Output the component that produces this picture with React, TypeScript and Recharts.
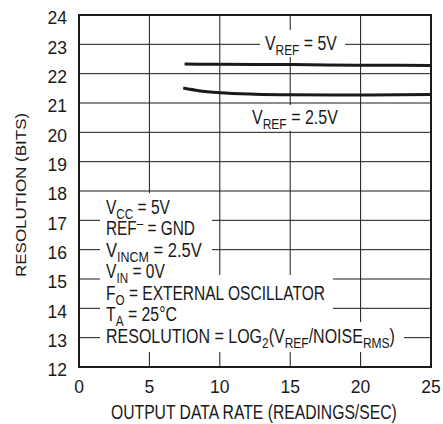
import React, { useLayoutEffect, useRef, useState } from "react";
import {
  LineChart,
  Line,
  XAxis,
  YAxis,
  CartesianGrid,
  ReferenceArea,
} from "recharts";

// resolution vs output data rate
const vref5 = [
  { x: 7.5, y: 22.33 },
  { x: 10, y: 22.32 },
  { x: 15, y: 22.31 },
  { x: 20, y: 22.29 },
  { x: 25, y: 22.28 },
];

const vref25 = [
  { x: 7.4, y: 21.51 },
  { x: 8.5, y: 21.42 },
  { x: 10, y: 21.35 },
  { x: 12.5, y: 21.3 },
  { x: 15, y: 21.28 },
  { x: 20, y: 21.27 },
  { x: 25, y: 21.29 },
];

const xTicks = [0, 5, 10, 15, 20, 25];
const yTicks = [12, 13, 14, 15, 16, 17, 18, 19, 20, 21, 22, 23, 24];

// white patches behind the annotations (data units)
const labelBoxes = [
  { x1: 12.85, x2: 18.9, y1: 22.57, y2: 23.49 },
  { x1: 12.0, x2: 18.7, y1: 20.05, y2: 20.93 },
  { x1: 1.49, x2: 9.45, y1: 15.14, y2: 17.93 },
  { x1: 1.49, x2: 18.04, y1: 13.53, y2: 15.14 },
  { x1: 1.49, x2: 23.08, y1: 12.51, y2: 13.53 },
];

const FONT = "'Liberation Sans', Arial, sans-serif";
const INK = "#1a1a1a";

type Seg = [string, ("sub" | "sup")?];

// text with sub/superscripts, scaled horizontally to the condensed width of the original
function Rich({
  x,
  y,
  len,
  segs,
  size = 19.5,
  rotate = 0,
}: {
  x: number;
  y: number;
  len: number;
  segs: Seg[];
  size?: number;
  rotate?: number;
}) {
  const ref = useRef<SVGTextElement>(null);
  const [sx, setSx] = useState(0.82);
  useLayoutEffect(() => {
    if (ref.current) {
      const w = ref.current.getBBox().width;
      if (w > 0) setSx(len / w);
    }
  }, [len]);
  let cur = 0;
  return (
    <g transform={`translate(${x} ${y}) rotate(${rotate}) scale(${sx} 1)`}>
      <text ref={ref} x={0} y={0} fontSize={size}>
        {segs.map(([t, k], i) => {
          const target = k === "sub" ? 5 : k === "sup" ? -7 : 0;
          const dy = target - cur;
          cur = target;
          return (
            <tspan key={i} dy={dy} fontSize={k ? size * 0.75 : undefined}>
              {t}
            </tspan>
          );
        })}
      </text>
    </g>
  );
}

function Notes() {
  const x0 = 106;
  const b0 = 214;
  const step = 21.45;
  return (
    <svg
      width={443}
      height={424}
      style={{ position: "absolute", left: 0, top: 0, pointerEvents: "none" }}
      fontFamily={FONT}
      fill={INK}
    >
      <Rich x={265} y={50} len={72} segs={[["V"], ["REF", "sub"], [" = 5V"]]} />
      <Rich x={252} y={124} len={86} segs={[["V"], ["REF", "sub"], [" = 2.5V"]]} />
      <Rich x={x0} y={b0} len={64} segs={[["V"], ["CC", "sub"], [" = 5V"]]} />
      <Rich x={x0} y={b0 + step} len={89} segs={[["REF"], ["–", "sup"], [" = GND"]]} />
      <Rich x={x0} y={b0 + step * 2} len={96} segs={[["V"], ["INCM", "sub"], [" = 2.5V"]]} />
      <Rich x={x0} y={b0 + step * 3} len={59} segs={[["V"], ["IN", "sub"], [" = 0V"]]} />
      <Rich x={x0} y={b0 + step * 4} len={219} segs={[["F"], ["O", "sub"], [" = EXTERNAL OSCILLATOR"]]} />
      <Rich x={x0} y={b0 + step * 5} len={71} segs={[["T"], ["A", "sub"], [" = 25°C"]]} />
      <Rich
        x={x0}
        y={b0 + step * 6}
        len={289}
        segs={[["RESOLUTION = LOG"], ["2", "sub"], ["(V"], ["REF", "sub"], ["/NOISE"], ["RMS", "sub"], [")"]]}
      />
      <Rich x={111} y={418.5} len={286} segs={[["OUTPUT DATA RATE (READINGS/SEC)"]]} />
      <Rich x={25.5} y={277} len={164} size={15.5} rotate={-90} segs={[["RESOLUTION (BITS)"]]} />
    </svg>
  );
}

export default function App() {
  return (
    <div
      style={{
        position: "absolute",
        left: 0,
        top: 0,
        width: 443,
        height: 424,
        background: "#fff",
        fontFamily: FONT,
      }}
    >
      <LineChart
        width={443}
        height={424}
        margin={{ top: 15, right: 12, left: 0, bottom: 0 }}
      >
        <CartesianGrid stroke={INK} strokeWidth={1} />
        <XAxis
          type="number"
          dataKey="x"
          domain={[0, 25]}
          ticks={xTicks}
          interval={0}
          allowDataOverflow
          height={57}
          tickLine={false}
          tickSize={0}
          tickMargin={14}
          axisLine={{ stroke: INK, strokeWidth: 2 }}
          tick={{ fill: INK, fontSize: 17.5, fontFamily: FONT }}
        />
        <YAxis
          type="number"
          domain={[12, 24]}
          ticks={yTicks}
          interval={0}
          allowDataOverflow
          width={79}
          tickLine={false}
          tickSize={0}
          tickMargin={12}
          axisLine={{ stroke: INK, strokeWidth: 2 }}
          tick={{ fill: INK, fontSize: 17.5, fontFamily: FONT, dy: 3 }}
        />
        <ReferenceArea
          x1={0}
          x2={25}
          y1={12}
          y2={24}
          fill="none"
          stroke={INK}
          strokeWidth={2}
        />
        {labelBoxes.map((b, i) => (
          <ReferenceArea
            key={i}
            x1={b.x1}
            x2={b.x2}
            y1={b.y1}
            y2={b.y2}
            fill="#fff"
            fillOpacity={1}
            stroke="none"
          />
        ))}
        <Line
          data={vref5}
          dataKey="y"
          type="monotone"
          stroke={INK}
          strokeWidth={3}
          dot={false}
          isAnimationActive={false}
        />
        <Line
          data={vref25}
          dataKey="y"
          type="monotone"
          stroke={INK}
          strokeWidth={3}
          dot={false}
          isAnimationActive={false}
        />
      </LineChart>
      <Notes />
    </div>
  );
}
